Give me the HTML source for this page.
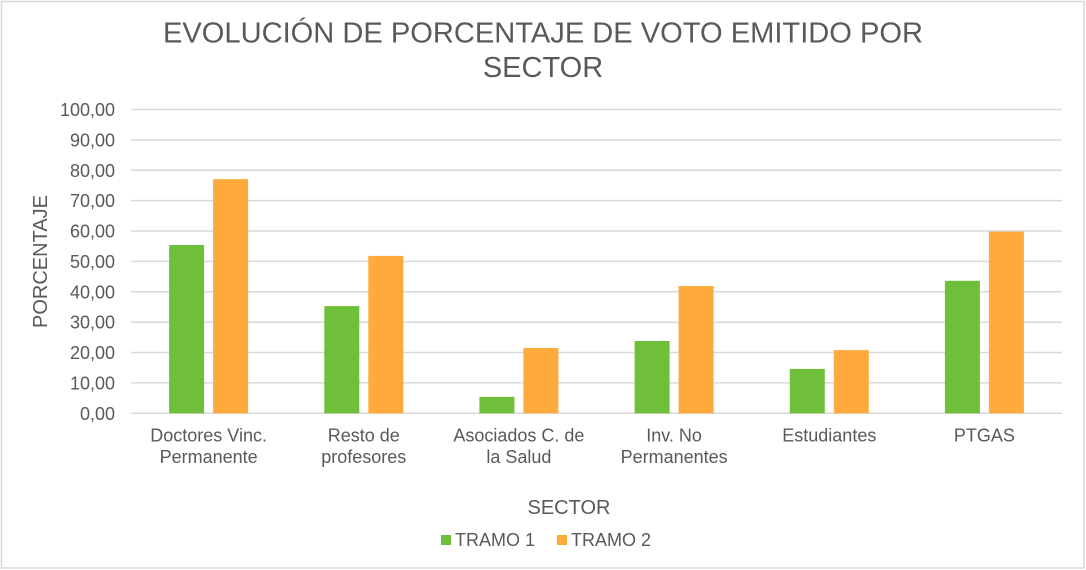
<!DOCTYPE html>
<html>
<head>
<meta charset="utf-8">
<style>
  html, body { margin: 0; padding: 0; background: #fff; }
  svg { display: block; }
  text { font-family: "Liberation Sans", Arial, sans-serif; fill: #595959; }
</style>
</head>
<body>
<svg width="1086" height="570" viewBox="0 0 1086 570" xmlns="http://www.w3.org/2000/svg">
  <rect x="0" y="0" width="1086" height="570" fill="#ffffff"/>
  <rect x="1.5" y="1.5" width="1082.5" height="566.5" fill="none" stroke="#d9d9d9" stroke-width="1.5"/>

  <!-- Title -->
  <text x="543" y="42.7" font-size="29" text-anchor="middle" textLength="760" lengthAdjust="spacingAndGlyphs">EVOLUCIÓN DE PORCENTAJE DE VOTO EMITIDO POR</text>
  <text x="543" y="77" font-size="29" text-anchor="middle">SECTOR</text>

  <!-- Gridlines -->
  <g stroke="#d9d9d9" stroke-width="1.5">
    <line x1="131" y1="109.5" x2="1062" y2="109.5"/>
    <line x1="131" y1="139.9" x2="1062" y2="139.9"/>
    <line x1="131" y1="170.3" x2="1062" y2="170.3"/>
    <line x1="131" y1="200.6" x2="1062" y2="200.6"/>
    <line x1="131" y1="231.0" x2="1062" y2="231.0"/>
    <line x1="131" y1="261.4" x2="1062" y2="261.4"/>
    <line x1="131" y1="291.8" x2="1062" y2="291.8"/>
    <line x1="131" y1="322.2" x2="1062" y2="322.2"/>
    <line x1="131" y1="352.5" x2="1062" y2="352.5"/>
    <line x1="131" y1="382.9" x2="1062" y2="382.9"/>
    <line x1="131" y1="413.3" x2="1062" y2="413.3"/>
  </g>

  <!-- Y tick labels -->
  <g font-size="18" text-anchor="end">
    <text x="115" y="116">100,00</text>
    <text x="115" y="146.4">90,00</text>
    <text x="115" y="176.8">80,00</text>
    <text x="115" y="207.1">70,00</text>
    <text x="115" y="237.5">60,00</text>
    <text x="115" y="267.9">50,00</text>
    <text x="115" y="298.3">40,00</text>
    <text x="115" y="328.7">30,00</text>
    <text x="115" y="359">20,00</text>
    <text x="115" y="389.4">10,00</text>
    <text x="115" y="419.8">0,00</text>
  </g>

  <!-- Y axis title -->
  <text x="0" y="0" font-size="20" text-anchor="middle" transform="translate(47 261.5) rotate(-90)">PORCENTAJE</text>

  <!-- Bars: green = TRAMO 1, orange = TRAMO 2 -->
  <g fill="#70bf3a">
    <rect x="169.1" y="245.0" width="35" height="168.3"/>
    <rect x="324.3" y="306.1" width="35" height="107.2"/>
    <rect x="479.4" y="396.9" width="35" height="16.4"/>
    <rect x="634.6" y="341.0" width="35" height="72.3"/>
    <rect x="789.8" y="368.9" width="35" height="44.4"/>
    <rect x="944.9" y="280.8" width="35" height="132.5"/>
  </g>
  <g fill="#ffaa3c">
    <rect x="213.1" y="179.1" width="35" height="234.2"/>
    <rect x="368.3" y="255.9" width="35" height="157.4"/>
    <rect x="523.4" y="348.0" width="35" height="65.3"/>
    <rect x="678.6" y="286.0" width="35" height="127.3"/>
    <rect x="833.8" y="350.1" width="35" height="63.2"/>
    <rect x="988.9" y="231.6" width="35" height="181.7"/>
  </g>

  <!-- Category labels -->
  <g font-size="18" text-anchor="middle">
    <text x="208.6" y="441.5">Doctores Vinc.</text>
    <text x="208.6" y="463.2">Permanente</text>
    <text x="363.8" y="441.5">Resto de</text>
    <text x="363.8" y="463.2">profesores</text>
    <text x="518.9" y="441.5">Asociados C. de</text>
    <text x="518.9" y="463.2">la Salud</text>
    <text x="674.1" y="441.5">Inv. No</text>
    <text x="674.1" y="463.2">Permanentes</text>
    <text x="829.3" y="441.5">Estudiantes</text>
    <text x="984.4" y="441.5">PTGAS</text>
  </g>

  <!-- X axis title -->
  <text x="569" y="514" font-size="20" text-anchor="middle">SECTOR</text>

  <!-- Legend -->
  <rect x="441" y="535" width="10" height="10" fill="#70bf3a"/>
  <text x="455" y="546" font-size="18">TRAMO 1</text>
  <rect x="557" y="535" width="10" height="10" fill="#ffaa3c"/>
  <text x="571" y="546" font-size="18">TRAMO 2</text>
</svg>
</body>
</html>
